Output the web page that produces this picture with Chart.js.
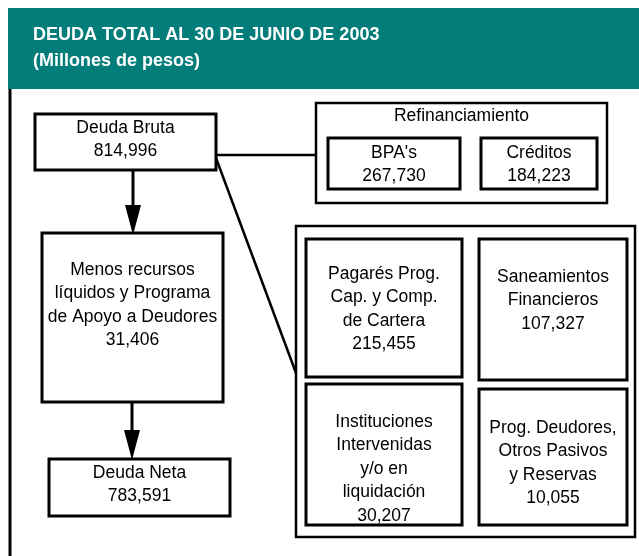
<!DOCTYPE html>
<html>
<head>
<meta charset="utf-8">
<script src="https://cdn.jsdelivr.net/npm/chart.js@4/dist/chart.umd.min.js"></script>
<style>
  html, body { margin: 0; padding: 0; background: #fff; }
  #wrap { width: 639px; height: 556px; }
</style>
</head>
<body>
<div id="wrap"><canvas id="debtChart" width="639" height="556"></canvas></div>
<script>
const titleLines = ["DEUDA TOTAL AL 30 DE JUNIO DE 2003", "(Millones de pesos)"];

// Diagram nodes (millions of pesos)
const nodeLabels = [
  "Deuda Bruta",
  "Menos recursos\nlíquidos y Programa\nde Apoyo a Deudores",
  "Deuda Neta",
  "BPA's",
  "Créditos",
  "Pagarés Prog.\nCap. y Comp.\nde Cartera",
  "Saneamientos\nFinancieros",
  "Instituciones\nIntervenidas\ny/o en\nliquidación",
  "Prog. Deudores,\nOtros Pasivos\ny Reservas"
];
const nodeValues = [814996, 31406, 783591, 267730, 184223, 215455, 107327, 30207, 10055];
const groupLabels = ["Refinanciamiento", ""];

// Layout, in axis units (the axes span the canvas)
const boxLayout = [
  { x0: 35, y0: 114, x1: 216, y1: 170, ty: 128 },
  { x0: 42, y0: 233, x1: 223, y1: 402, ty: 270 },
  { x0: 49, y0: 459, x1: 230, y1: 516, ty: 473 },
  { x0: 328, y0: 138, x1: 460, y1: 189, ty: 153 },
  { x0: 481, y0: 138, x1: 597, y1: 189, ty: 153 },
  { x0: 306, y0: 239, x1: 462, y1: 377, ty: 274 },
  { x0: 479, y0: 239, x1: 627, y1: 380, ty: 277 },
  { x0: 306, y0: 384, x1: 462, y1: 525, ty: 422 },
  { x0: 479, y0: 389, x1: 627, y1: 525, ty: 428 }
];
const groupLayout = [
  { x0: 316, y0: 103, x1: 607, y1: 203, ty: 116 },
  { x0: 296, y0: 226, x1: 635, y1: 537, ty: 0 }
];
const connectorLayout = [
  [216, 155, 316, 155],
  [216, 158, 296, 373]
];
const arrowLayout = [
  [133, 170, 235],
  [132, 402, 460]
];

const TEAL = "#037d7a";
const FONT = '"Liberation Sans", Arial, sans-serif';
const LINE_H = 23.5;

function fmt(v) {
  return v.toLocaleString("en-US");
}

const diagramPlugin = {
  id: "diagram",
  afterDraw(chart) {
    const ctx = chart.ctx;
    const xs = chart.scales.x;
    const ys = chart.scales.y;
    const X = v => xs.getPixelForValue(v);
    const Y = v => ys.getPixelForValue(v);

    ctx.save();

    // header band
    ctx.fillStyle = TEAL;
    ctx.fillRect(X(8), Y(8), X(639) - X(8), Y(89) - Y(8));
    ctx.fillStyle = "#fff";
    ctx.font = "bold 18px " + FONT;
    ctx.textAlign = "left";
    ctx.textBaseline = "middle";
    ctx.fillText(titleLines[0], X(33), Y(35));
    ctx.fillText(titleLines[1], X(33), Y(61));

    // left frame line
    ctx.strokeStyle = "#000";
    ctx.lineWidth = 3;
    ctx.beginPath();
    ctx.moveTo(X(10), Y(89));
    ctx.lineTo(X(10), Y(556));
    ctx.stroke();

    // connectors
    ctx.lineWidth = 2.5;
    connectorLayout.forEach(c => {
      ctx.beginPath();
      ctx.moveTo(X(c[0]), Y(c[1]));
      ctx.lineTo(X(c[2]), Y(c[3]));
      ctx.stroke();
    });

    // arrows
    arrowLayout.forEach(a => {
      ctx.lineWidth = 3;
      ctx.beginPath();
      ctx.moveTo(X(a[0]), Y(a[1]));
      ctx.lineTo(X(a[0]), Y(a[2] - 28));
      ctx.stroke();
      ctx.fillStyle = "#000";
      ctx.beginPath();
      ctx.moveTo(X(a[0] - 8), Y(a[2] - 30));
      ctx.lineTo(X(a[0] + 8), Y(a[2] - 30));
      ctx.lineTo(X(a[0]), Y(a[2]));
      ctx.closePath();
      ctx.fill();
    });

    ctx.textAlign = "center";
    ctx.textBaseline = "middle";
    ctx.font = "17.5px " + FONT;

    // group boxes
    groupLayout.forEach((g, i) => {
      ctx.fillStyle = "#fff";
      ctx.fillRect(X(g.x0), Y(g.y0), X(g.x1) - X(g.x0), Y(g.y1) - Y(g.y0));
      ctx.lineWidth = 2.5;
      ctx.strokeRect(X(g.x0), Y(g.y0), X(g.x1) - X(g.x0), Y(g.y1) - Y(g.y0));
      if (groupLabels[i]) {
        ctx.fillStyle = "#000";
        ctx.fillText(groupLabels[i], X((g.x0 + g.x1) / 2), Y(g.ty));
      }
    });

    // node boxes
    boxLayout.forEach((b, i) => {
      ctx.fillStyle = "#fff";
      ctx.fillRect(X(b.x0), Y(b.y0), X(b.x1) - X(b.x0), Y(b.y1) - Y(b.y0));
      ctx.lineWidth = 3;
      ctx.strokeRect(X(b.x0), Y(b.y0), X(b.x1) - X(b.x0), Y(b.y1) - Y(b.y0));
      const lines = nodeLabels[i].split("\n").concat([fmt(nodeValues[i])]);
      ctx.fillStyle = "#000";
      lines.forEach((t, k) => {
        ctx.fillText(t, X((b.x0 + b.x1) / 2), Y(b.ty + k * LINE_H));
      });
    });

    ctx.restore();
  }
};

new Chart(document.getElementById("debtChart"), {
  type: "scatter",
  data: { datasets: [] },
  options: {
    responsive: false,
    animation: false,
    layout: { padding: 0 },
    plugins: { legend: { display: false }, tooltip: { enabled: false } },
    scales: {
      x: { type: "linear", min: 0, max: 639, display: false },
      y: { type: "linear", min: 0, max: 556, reverse: true, display: false }
    }
  },
  plugins: [diagramPlugin]
});
</script>
</body>
</html>
